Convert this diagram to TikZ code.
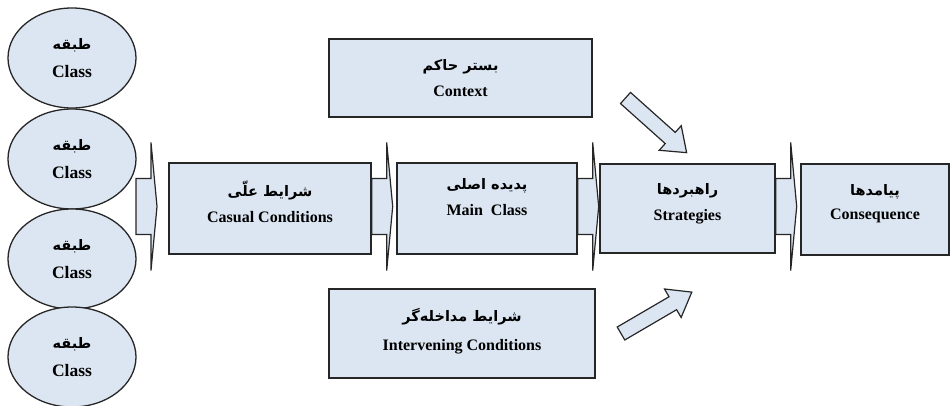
\documentclass[tikz,border=0pt]{standalone}
\usepackage{fontspec}
\setmainfont{Liberation Serif}
\newfontfamily\farsi[Script=Arabic]{DejaVu Sans}
\TeXXeTstate=1
\usetikzlibrary{shapes.geometric}

\definecolor{boxfill}{RGB}{220,230,242}
\newcommand{\fa}[1]{{\farsi\bfseries\fontsize{14.5}{16}\selectfont\beginR #1\endR}}

\tikzset{
  box/.style={draw=black!85, line width=1.4pt, fill=boxfill, align=center,
    inner sep=0pt, font=\bfseries\fontsize{16}{19}\selectfont},
  classbox/.style={ellipse, draw=black!85, line width=1.3pt, fill=boxfill,
    align=center, inner sep=0pt, minimum width=128pt, minimum height=100pt,
    font=\bfseries\fontsize{17.5}{20}\selectfont},
  blockarrow/.style={draw=black!85, line width=1.2pt, fill=boxfill, line join=miter},
}

% short block arrow with a thin tall head
\newcommand{\chevron}[1]{%
  \draw[blockarrow] ([yshift=2pt]#1) ++(0,-28) -- ++(15,0) -- ++(0,-36)
    -- ++(6,64) -- ++(-6,64) -- ++(0,-36) -- ++(-15,0) -- cycle;}
% slanted block arrow
\newcommand{\slantarrow}[2]{%
  \draw[blockarrow, shift={(#1)}, rotate=#2] (0,-7.5) -- (60,-7.5) -- (60,-16.5)
    -- (82,0) -- (60,16.5) -- (60,7.5) -- (0,7.5) -- cycle;}

\begin{document}
\begin{tikzpicture}[x=1pt, y=-1pt]
  \useasboundingbox (0,0) rectangle (951,406);

  % Classes
  \node[classbox] (c1) at (72,58)  {\fa{طبقه}\\[8pt] Class};
  \node[classbox] (c2) at (72,159) {\fa{طبقه}\\[8pt] Class};
  \node[classbox] (c3) at (72,259) {\fa{طبقه}\\[8pt] Class};
  \node[classbox] (c4) at (72,357) {\fa{طبقه}\\[8pt] Class};

  % Boxes
  \node[box, minimum width=202pt, minimum height=91pt] (casual) at (270,208.5)
    {\fa{شرایط علّی}\\[7pt] Casual Conditions\\[-5pt]};
  \node[box, minimum width=180pt, minimum height=91pt] (main) at (487,208.5)
    {\fa{پدیده اصلی}\\[7pt] Main\ \ Class\\[4pt]};
  \node[box, minimum width=175pt, minimum height=89pt] (strat) at (687.5,208.5)
    {\fa{راهبردها}\\[7pt] Strategies\\[-5pt]};
  \node[box, minimum width=148pt, minimum height=91pt] (conseq) at (875,209.5)
    {\fa{پیامدها}\\[5pt] Consequence\\[-3pt]};
  \node[box, minimum width=263pt, minimum height=78pt] (context) at (460.5,78)
    {\fa{بستر حاکم}\\[7pt] Context};
  \node[box, minimum width=266pt, minimum height=89pt] (interv) at (462,333.5)
    {\fa{شرایط مداخله‌گر}\\[10pt] Intervening Conditions\\[-11pt]};

  % Arrows
  \coordinate (cstart) at (136,208.5);
  \chevron{cstart}
  \chevron{casual.east}
  \chevron{main.east}
  \chevron{strat.east}

  \coordinate (ctxtail) at (625.5,98);
  \coordinate (intvtail) at (621,333.5);
  \slantarrow{ctxtail}{-41.8}
  \slantarrow{intvtail}{30.3}
\end{tikzpicture}
\end{document}
